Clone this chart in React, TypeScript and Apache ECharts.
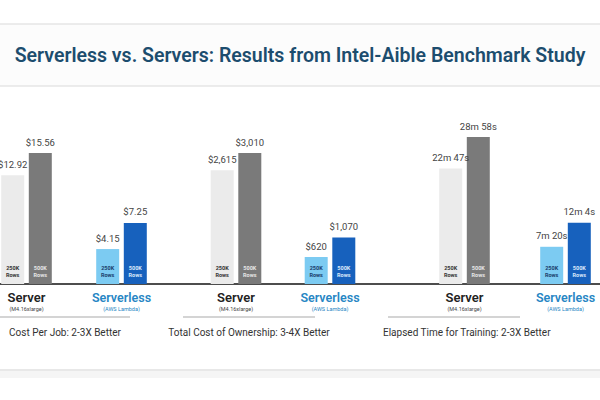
import React, { useEffect, useRef } from "react";
import * as echarts from "echarts";

const categories = ["Server", "Serverless"];
const instanceLabels = ["(M4.16xlarge)", "(AWS Lambda)"];
const rowLabels = ["250K\nRows", "500K\nRows"];
const panelTitles = [
  "Cost Per Job: 2-3X Better",
  "Total Cost of Ownership: 3-4X Better",
  "Elapsed Time for Training: 2-3X Better",
];
const costPerJob250 = [12.92, 4.15];
const costPerJob500 = [15.56, 7.25];
const tco250 = [2615, 620];
const tco500 = [3010, 1070];
// elapsed time in seconds
const time250 = [1367, 440];
const time500 = [1738, 724];

const fmtCost = (v: number) => "$" + v.toFixed(2);
const fmtTco = (v: number) => "$" + v.toLocaleString("en-US");
const fmtTime = (v: number) => `${Math.floor(v / 60)}m ${v % 60}s`;

const barColors = [
  ["#ebebeb", "#7ccbf2"],
  ["#7a7a7a", "#1761bd"],
];
const rowLabelColors = [
  ["#333333", "#1a3d6b"],
  ["#e6e6e6", "#dbe9fb"],
];

const FONT = "Roboto";
// the chart canvas is wider than the window so that the cropped panels can overflow it
const OX = 60;
const CW = 600 + 2 * OX;

const panels = [
  { v250: costPerJob250, v500: costPerJob500, fmt: fmtCost, left: -21, width: 190, top: 153 },
  { v250: tco250, v500: tco500, fmt: fmtTco, left: 189, width: 188, top: 153 },
  { v250: time250, v500: time500, fmt: fmtTime, left: 414, width: 202, top: 137 },
];

export default function App() {
  const ref = useRef<HTMLDivElement>(null);
  useEffect(() => {
    if (!ref.current) return;
    const chart = echarts.init(ref.current, undefined, { renderer: "svg" });
    const grid: any[] = [];
    const xAxis: any[] = [];
    const yAxis: any[] = [];
    const series: any[] = [];
    panels.forEach((p, i) => {
      grid.push({ left: p.left + OX, width: p.width, top: p.top, bottom: 116, containLabel: false });
      xAxis.push({
        type: "category",
        gridIndex: i,
        data: categories,
        axisLine: { show: false },
        axisTick: { show: false },
        axisLabel: {
          interval: 0,
          hideOverlap: false,
          margin: 6,
          formatter: (v: string, idx: number) =>
            idx === 0 ? `{a|${v}}\n{as|${instanceLabels[idx]}}` : `{b|${v}}\n{bs|${instanceLabels[idx]}}`,
          rich: {
            a: { fontFamily: FONT, fontSize: 13, fontWeight: 600, color: "#222222", lineHeight: 15 },
            as: { fontFamily: FONT, fontSize: 5.5, color: "#444444", lineHeight: 8 },
            b: { fontFamily: FONT, fontSize: 12.5, fontWeight: 600, color: "#2786c4", lineHeight: 15 },
            bs: { fontFamily: FONT, fontSize: 5.5, color: "#2786c4", lineHeight: 8 },
          },
        },
      });
      const maxV = Math.max(...p.v500, ...p.v250);
      yAxis.push({ type: "value", gridIndex: i, min: 0, max: maxV, show: false, splitLine: { show: false } });
      [p.v250, p.v500].forEach((vals, k) => {
        series.push({
          type: "bar",
          xAxisIndex: i,
          yAxisIndex: i,
          stack: `p${i}s${k}`,
          barWidth: 23,
          barGap: "20%",
          data: vals.map((v, j) => ({
            value: v,
            itemStyle: { color: barColors[k][j] },
            label: { color: rowLabelColors[k][j] },
          })),
          label: {
            show: true,
            position: "insideBottom",
            distance: 6,
            formatter: rowLabels[k],
            fontFamily: FONT,
            fontSize: 5.5,
            fontWeight: "bold",
            lineHeight: 7,
          },
        });
        series.push({
          type: "bar",
          xAxisIndex: i,
          yAxisIndex: i,
          stack: `p${i}s${k}`,
          barWidth: 23,
          barGap: "20%",
          data: vals.map(() => 0),
          itemStyle: { color: "transparent" },
          label: {
            show: true,
            position: "top",
            distance: 6,
            formatter: (prm: any) => p.fmt(vals[prm.dataIndex]),
            fontFamily: FONT,
            fontSize: 9.5,
            color: "#444444",
          },
        });
      });
    });

    const subFont = `10px ${FONT}`;
    const graphic: any[] = [
      { type: "rect", shape: { x: 0, y: 24, width: CW, height: 62 }, style: { fill: "#fcfcfc" } },
      { type: "line", shape: { x1: 0, y1: 24, x2: CW, y2: 24 }, style: { stroke: "#e6e6e6", lineWidth: 1.5 } },
      { type: "line", shape: { x1: 0, y1: 86, x2: CW, y2: 86 }, style: { stroke: "#e6e6e6", lineWidth: 1.5 } },
      {
        type: "text",
        x: 300 + OX,
        y: 55,
        style: {
          text: "Serverless vs. Servers: Results from Intel-Aible Benchmark Study",
          fill: "#1c4d6e",
          font: `600 19.5px ${FONT}`,
          textAlign: "center",
          textVerticalAlign: "middle",
        },
      },
      { type: "line", shape: { x1: 0, y1: 284, x2: CW, y2: 284 }, style: { stroke: "#4d4d4d", lineWidth: 2 } },
      { type: "line", shape: { x1: OX - 10, y1: 317, x2: 130 + OX, y2: 317 }, style: { stroke: "#d4d4d4", lineWidth: 2 } },
      { type: "line", shape: { x1: 183 + OX, y1: 317, x2: 315 + OX, y2: 317 }, style: { stroke: "#d4d4d4", lineWidth: 2 } },
      { type: "line", shape: { x1: 388 + OX, y1: 317, x2: 520 + OX, y2: 317 }, style: { stroke: "#d4d4d4", lineWidth: 2 } },
      { type: "text", x: 65 + OX, y: 332, style: { text: panelTitles[0], fill: "#333333", font: subFont, textAlign: "center", textVerticalAlign: "middle" } },
      { type: "text", x: 249 + OX, y: 332, style: { text: panelTitles[1], fill: "#333333", font: subFont, textAlign: "center", textVerticalAlign: "middle" } },
      { type: "text", x: 383 + OX, y: 332, style: { text: panelTitles[2], fill: "#333333", font: subFont, textAlign: "left", textVerticalAlign: "middle" } },
      { type: "rect", shape: { x: 0, y: 371, width: CW, height: 7 }, style: { fill: "#f5f5f5" } },
      { type: "line", shape: { x1: 0, y1: 370, x2: CW, y2: 370 }, style: { stroke: "#e0e0e0", lineWidth: 1.5 } },
    ];

    chart.setOption({
      animation: false,
      backgroundColor: "#ffffff",
      grid,
      xAxis,
      yAxis,
      series,
      graphic,
    });
    return () => chart.dispose();
  }, []);
  return (
    <div style={{ position: "absolute", left: 0, top: 0, width: 600, height: 400, overflow: "hidden" }}>
      <div ref={ref} style={{ position: "absolute", left: -OX, top: 0, width: CW, height: 400 }} />
    </div>
  );
}
